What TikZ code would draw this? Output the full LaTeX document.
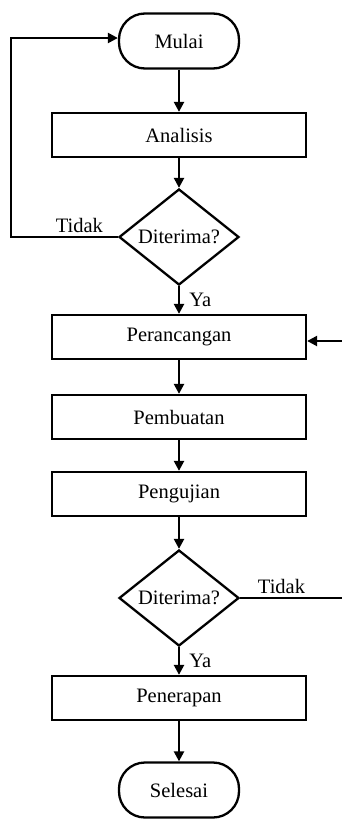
\documentclass[tikz,border=0pt]{standalone}
\usepackage{fontspec}
\setmainfont{Liberation Serif}
\usetikzlibrary{arrows.meta,shapes.geometric}

\tikzset{
  terminal/.style={draw, rectangle, rounded corners=26pt, minimum width=120pt, minimum height=55pt, line width=2.3pt},
  proses/.style={draw, rectangle, minimum width=254pt, minimum height=44pt, line width=2.3pt},
  keputusan/.style={draw, diamond, aspect=1.25, inner sep=1pt, minimum width=120pt, minimum height=96pt, line width=2.3pt},
}

\begin{document}
\begin{tikzpicture}[x=1pt,y=1pt,>={Triangle[length=10pt,width=10pt]},line width=2.3pt,
  font=\fontsize{20.5}{23}\selectfont]
        \useasboundingbox (0,0) rectangle (342,-819);

        \node[terminal] (mulai) at (179,-41) {Mulai};
        \node[proses] (analisis) [below of = mulai, node distance=94pt] {Analisis};
        \node[keputusan] (cek1) [below of = analisis, node distance=102pt] {Diterima?};

        \node[proses] (perancangan) [below of = cek1, node distance=100pt] {Perancangan};
        \node[proses] (pembuatan) [below of = perancangan, node distance=80pt] {Pembuatan};
        \node[proses] (pengujian) [below of = pembuatan, node distance=77pt] {Pengujian};
        \node[keputusan] (cek2) [below of = pengujian, node distance=104pt] {Diterima?};

        \node[proses] (penerapan) [below of = cek2, node distance=100pt] {Penerapan};
        \node[terminal] (selesai) [below of = penerapan, node distance=92pt] {Selesai};

        \draw[->] (mulai) -- (analisis);
        \draw[->] (analisis) -- (cek1);
        \draw[->] (cek1) -- node[right, xshift=6pt] {Ya} (perancangan);
        \draw[->] (perancangan) -- (pembuatan);
        \draw[->] (pembuatan) -- (pengujian);
        \draw[->] (pengujian) -- (cek2);
        \draw[->] (cek2) -- node[right, xshift=6pt] {Ya} (penerapan);
        \draw[->] (penerapan) -- (selesai);

        % kembali ke awal
        \draw[->] (cek1.west) -- ++(-107,0) node[pos=0.36, above] {Tidak} |- ([yshift=3pt]mulai.west);
        % kembali ke perancangan
        \draw[->] (cek2.east) -- ++(106,0) node[pos=0.39, above] {Tidak} |- ([yshift=-4pt]perancangan.east);
      \end{tikzpicture}
\end{document}
